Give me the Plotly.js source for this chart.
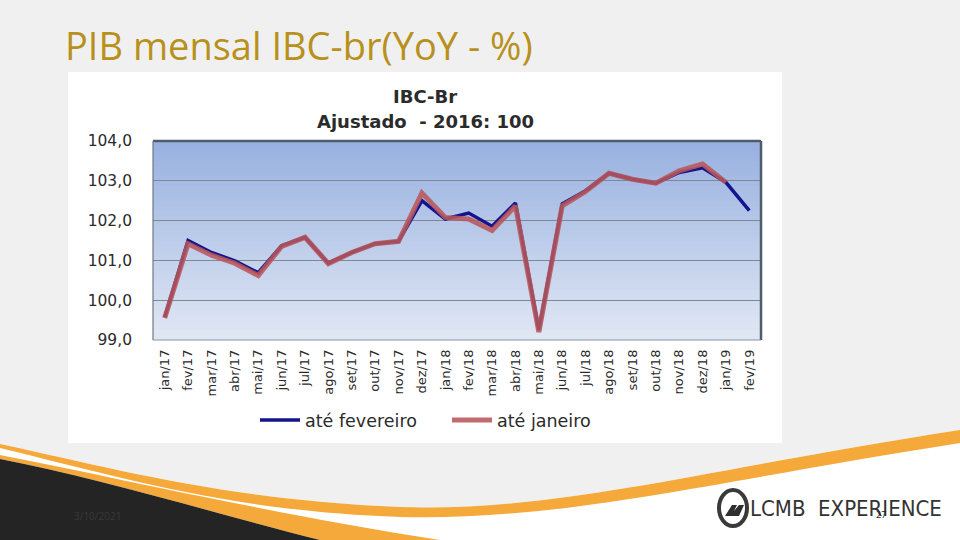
<!DOCTYPE html>
<html>
<head>
<meta charset="utf-8">
<script src="https://cdn.plot.ly/plotly-3.0.1.min.js"></script>
<style>html,body{margin:0;padding:0;background:#f1f0f1;}#chart{width:960px;height:540px;}</style>
</head>
<body>
<div id="chart"></div>
<script>
// ---- data ----
const months = ["jan/17","fev/17","mar/17","abr/17","mai/17","jun/17","jul/17","ago/17","set/17","out/17","nov/17","dez/17",
                "jan/18","fev/18","mar/18","abr/18","mai/18","jun/18","jul/18","ago/18","set/18","out/18","nov/18","dez/18",
                "jan/19","fev/19"];
const ateFevereiro = [99.57,101.50,101.20,100.99,100.69,101.37,101.58,100.93,101.20,101.42,101.48,102.50,
                      102.04,102.19,101.86,102.44,99.25,102.42,102.75,103.19,103.04,102.94,103.21,103.33,
                      102.96,102.25];
const ateJaneiro   = [99.55,101.42,101.13,100.93,100.62,101.35,101.58,100.92,101.20,101.42,101.48,102.69,
                      102.08,102.04,101.75,102.37,99.20,102.37,102.73,103.19,103.04,102.94,103.25,103.42,
                      102.96,null];
const yTicks = [99,100,101,102,103,104];
const yTickText = ["99,0","100,0","101,0","102,0","103,0","104,0"];

// ---- helpers (pixel -> paper) ----
const W = 960, H = 540;
const px = x => x / W;
const py = y => 1 - y / H;
function pathFrom(str){
  return str.replace(/(-?\d+(\.\d+)?),(-?\d+(\.\d+)?)/g, (m,a,b,c) => px(+a).toFixed(5) + "," + py(+c).toFixed(5));
}
const plotL = 153, plotR = 761, plotT = 141, plotB = 340;

const shapes = [];
// white chart panel
shapes.push({type:"rect", xref:"paper", yref:"paper", x0:px(68), x1:px(782), y0:py(443), y1:py(72),
             fillcolor:"#ffffff", line:{width:0}, layer:"below"});
// white lower area under orange swoosh
shapes.push({type:"path", xref:"paper", yref:"paper", layer:"below", fillcolor:"#ffffff", line:{width:0},
  path: pathFrom("M0,444 C120,470 230,500 400,507 C560,512 700,470 960,430 L960,540 L0,540 Z")});
// upper orange band
shapes.push({type:"path", xref:"paper", yref:"paper", layer:"below", fillcolor:"#f5a93a", line:{width:0},
  path: pathFrom("M0,444 C120,470 230,500 400,507 C560,512 700,470 960,430 L960,443 C700,484 560,521 400,517 C230,511 120,477 0,448 Z")});
// lower orange band
shapes.push({type:"path", xref:"paper", yref:"paper", layer:"below", fillcolor:"#f5a93a", line:{width:0},
  path: pathFrom("M0,455 C100,474 260,512 440,540 L320,540 C220,515 100,478 0,459 Z")});
// dark region
shapes.push({type:"path", xref:"paper", yref:"paper", layer:"below", fillcolor:"#242424", line:{width:0},
  path: pathFrom("M0,459 C100,478 220,515 320,540 L0,540 Z")});
// gradient plot background
const nb = 40;
const c0 = [152,177,224], c1 = [224,231,244];
for (let i = 0; i < nb; i++) {
  const t = i / (nb - 1);
  const c = c0.map((v,k) => Math.round(v + (c1[k]-v)*t));
  shapes.push({type:"rect", xref:"x domain", yref:"y domain", x0:0, x1:1,
               y0:Math.max(0, 1 - (i+1)/nb - 0.015), y1:1 - i/nb, fillcolor:`rgb(${c.join(",")})`,
               line:{width:0}, layer:"below"});
}
// plot frame (top/right darker)
shapes.push({type:"line", xref:"x domain", yref:"y domain", x0:0, x1:1, y0:1, y1:1, line:{color:"#4d5b6b", width:2.5}});
shapes.push({type:"line", xref:"x domain", yref:"y domain", x0:1, x1:1, y0:0, y1:1, line:{color:"#4d5b6b", width:2.5}});
shapes.push({type:"line", xref:"x domain", yref:"y domain", x0:0, x1:0, y0:0, y1:1, line:{color:"#6f7882", width:1.2}});
shapes.push({type:"line", xref:"x domain", yref:"y domain", x0:0, x1:1, y0:0, y1:0, line:{color:"#8a939c", width:1.2}});
// logo ring
shapes.push({type:"circle", xref:"paper", yref:"paper", x0:px(719), x1:px(747), y0:py(526), y1:py(490),
             line:{color:"#3a3a3a", width:4}, fillcolor:"rgba(0,0,0,0)"});
shapes.push({type:"path", xref:"paper", yref:"paper", fillcolor:"#2f2f2f", line:{width:0},
  path: pathFrom("M725,516 L732,505 L737,505 L734,511 L739,505 L744,505 L739,516 Z")});

const annotations = [
  {text:"PIB mensal IBC-br(YoY - %)", xref:"paper", yref:"paper", x:px(63), y:py(45), xanchor:"left", yanchor:"middle",
   showarrow:false, font:{family:"Open Sans", size:38, color:"#b8901c"}},
  {text:"<b>IBC-Br</b>", xref:"paper", yref:"paper", x:px(425), y:py(97), xanchor:"center", yanchor:"middle",
   showarrow:false, font:{family:"DejaVu Sans", size:18, color:"#2b2b2b"}},
  {text:"<b>Ajustado  - 2016: 100</b>", xref:"paper", yref:"paper", x:px(425), y:py(121), xanchor:"center", yanchor:"middle",
   showarrow:false, font:{family:"DejaVu Sans", size:18, color:"#2b2b2b"}},
  {text:"3/10/2021", xref:"paper", yref:"paper", x:px(72), y:py(516), xanchor:"left", yanchor:"middle",
   showarrow:false, font:{family:"Open Sans", size:10, color:"#3a3a3a"}},
  {text:"LCMB  EXPERIENCE", xref:"paper", yref:"paper", x:px(748), y:py(509), xanchor:"left", yanchor:"middle",
   showarrow:false, font:{family:"DejaVu Sans Condensed, Roboto", size:22, color:"#333333"}},
  {text:"27", xref:"paper", yref:"paper", x:px(881), y:py(514), xanchor:"center", yanchor:"middle",
   showarrow:false, font:{family:"Open Sans", size:9, color:"#222222"}}
];

const traces = [
  {type:"scatter", mode:"lines", name:"até fevereiro", x:months, y:ateFevereiro,
   line:{color:"#14148c", width:3.5}},
  {type:"scatter", mode:"lines", name:"até janeiro", x:months, y:ateJaneiro,
   line:{color:"rgba(186,86,90,0.88)", width:5}}
];

const layout = {
  width:W, height:H,
  margin:{l:0, r:0, t:0, b:0},
  paper_bgcolor:"#f1f0f1",
  plot_bgcolor:"rgba(0,0,0,0)",
  showlegend:true,
  separators:",.",
  xaxis:{domain:[px(plotL), px(plotR)], type:"category", range:[-0.5, 25.5], automargin:false,
         tickangle:-90, tickfont:{family:"DejaVu Sans", size:13, color:"#2b2b2b"},
         showgrid:false, zeroline:false, showline:false, ticks:"", ticklabelstandoff:6},
  yaxis:{domain:[py(plotB), py(plotT)], range:[99,104], automargin:false,
         tickvals:yTicks, ticktext:yTickText, tickfont:{family:"DejaVu Sans", size:15.5, color:"#2b2b2b"},
         showgrid:true, gridcolor:"#7d8893", gridwidth:1.2, zeroline:false, showline:false, ticks:"",
         ticklabelstandoff:20},
  legend:{orientation:"h", x:px(255), y:py(420), xanchor:"left", yanchor:"middle",
          bgcolor:"rgba(0,0,0,0)", font:{family:"DejaVu Sans", size:17.5, color:"#2b2b2b"},
          itemwidth:40, tracegroupgap:0, entrywidth:137, entrywidthmode:"pixels"},
  shapes:shapes,
  annotations:annotations
};

Plotly.newPlot("chart", traces, layout, {staticPlot:true, displayModeBar:false});
</script>
</body>
</html>
